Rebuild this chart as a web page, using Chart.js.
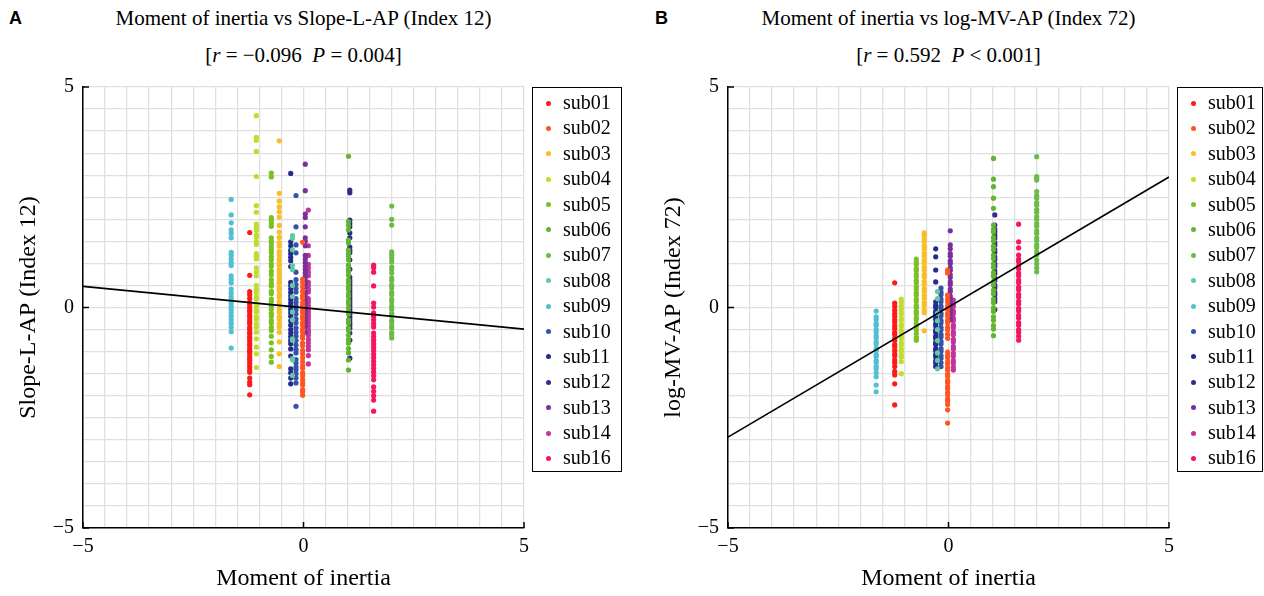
<!DOCTYPE html>
<html>
<head>
<meta charset="utf-8">
<script src="https://cdn.jsdelivr.net/npm/chart.js@4"></script>
<style>
  body { margin: 0; width: 1264px; height: 596px; overflow: hidden; background: #fff; font-family: "Liberation Serif", serif; }
  canvas { position: absolute; top: 0; }
  .title { position: absolute; width: 607px; text-align: center; font-size: 21px; line-height: 24px; color: #000; }
  .tag { position: absolute; top: 8px; font: bold 18px "Liberation Sans", Arial, sans-serif; }
  .legend { position: absolute; top: 87px; height: 381px; padding-top: 2px; border: 1.5px solid #000; box-sizing: content-box; }
  .legend div { height: 25.4px; line-height: 25.4px; font-size: 20px; position: relative; padding-left: 30px; }
  .legend span { position: absolute; left: 13px; top: 10.5px; width: 5px; height: 5px; border-radius: 50%; }
</style>
</head>
<body>
<div class="tag" style="left:9px">A</div>
<div class="title" style="left:0; top:6px">Moment of inertia vs Slope-L-AP (Index 12)</div>
<div class="title" style="left:0; top:43px">[<i>r</i> = −0.096&nbsp;&nbsp;<i>P</i> = 0.004]</div>
<div class="tag" style="left:655px">B</div>
<div class="title" style="left:645px; top:6px">Moment of inertia vs log-MV-AP (Index 72)</div>
<div class="title" style="left:645px; top:43px">[<i>r</i> = 0.592&nbsp;&nbsp;<i>P</i> &lt; 0.001]</div>

<canvas id="chartA" width="640" height="596" style="left:0"></canvas>
<canvas id="chartB" width="619" height="596" style="left:645px"></canvas>
<div class="legend" id="legendA" style="left:532px; width:88px"></div>
<div class="legend" id="legendB" style="left:1177px; width:84px"></div>

<script>
const subjects = ['sub01','sub02','sub03','sub04','sub05','sub06','sub07','sub08','sub09','sub10','sub11','sub12','sub13','sub14','sub16'];
const colors = ['#ff1a1a','#ff5522','#fbbd25','#bfdd2c','#7cc024','#62b52e','#6abb48','#62c9a2','#52bfd2','#3452a8','#222b8e','#35298c','#7a2f9c','#c2339c','#f5165e'];
// moment of inertia of each subject (x position of its column)
const inertia = [-1.22, -0.02, -0.55, -1.07, -0.73, 1.02, 2.0, -0.25, -1.64, -0.17, -0.29, 1.05, 0.04, 0.11, 1.59];

// Slope-L-AP (Index 12), one list per subject
const slopeLAP = [
  [1.7, 0.73, 0.36, 0.29, 0.21, 0.12, 0.07, 0.0, -0.06, -0.1, -0.17, -0.21, -0.28, -0.33, -0.37, -0.45, -0.49, -0.56, -0.6, -0.67, -0.71, -0.76, -0.83, -0.87, -0.94, -0.99, -1.03, -1.1, -1.16, -1.2, -1.27, -1.34, -1.41, -1.47, -1.6, -1.69, -1.75, -1.98],
  [1.48, 0.64, 0.56, 0.47, 0.37, 0.27, 0.21, 0.11, 0.05, -0.04, -0.1, -0.19, -0.25, -0.34, -0.4, -0.49, -0.55, -0.64, -0.7, -0.81, -0.87, -0.97, -1.05, -1.14, -1.23, -1.32, -1.38, -1.48, -1.54, -1.63, -1.71, -1.76, -1.86, -1.91, -1.99],
  [3.78, 2.59, 2.41, 2.28, 2.17, 2.05, 1.86, 1.71, 1.59, 1.47, 1.39, 1.27, 1.19, 1.1, 1.01, 0.95, 0.85, 0.79, 0.7, 0.61, 0.55, 0.45, 0.39, 0.29, 0.23, 0.13, 0.06, -0.05, -0.11, -0.21, -0.27, -0.37, -0.44, -0.56, -0.78, -1.05, -1.34],
  [4.35, 3.86, 3.79, 3.54, 2.97, 2.31, 2.16, 1.89, 1.81, 1.75, 1.65, 1.59, 1.49, 1.43, 1.22, 1.16, 1.1, 0.9, 0.81, 0.72, 0.5, 0.41, 0.34, 0.24, 0.19, 0.09, 0.04, -0.06, -0.11, -0.21, -0.27, -0.37, -0.44, -0.56, -0.71, -0.9, -1.05, -1.36],
  [3.05, 2.96, 2.04, 1.98, 1.9, 1.84, 1.58, 1.51, 1.46, 1.38, 1.31, 1.24, 1.15, 1.08, 0.99, 0.93, 0.82, 0.74, 0.63, 0.55, 0.49, 0.37, 0.31, 0.19, 0.13, 0.03, -0.04, -0.13, -0.19, -0.29, -0.35, -0.45, -0.52, -0.65, -0.8, -0.96, -1.11, -1.24],
  [3.43, 1.95, 1.86, 1.76, 1.53, 1.46, 1.3, 1.23, 1.16, 1.08, 0.96, 0.87, 0.81, 0.73, 0.62, 0.55, 0.46, 0.41, 0.31, 0.25, 0.15, 0.09, 0.0, -0.09, -0.15, -0.28, -0.35, -0.46, -0.52, -0.63, -0.73, -0.81, -0.93, -1.03, -1.19, -1.42],
  [2.3, 2.0, 1.87, 1.26, 1.19, 1.12, 1.04, 0.92, 0.86, 0.78, 0.67, 0.61, 0.51, 0.45, 0.35, 0.29, 0.19, 0.13, 0.03, -0.04, -0.13, -0.19, -0.29, -0.33, -0.41, -0.47, -0.57, -0.62, -0.69],
  [1.63, 1.57, 1.31, 0.95, 0.86, 0.5, 0.25, -0.1, -0.28, -0.71, -0.74, -1.16, -1.19, -1.54],
  [2.45, 2.1, 1.92, 1.76, 1.68, 1.58, 1.25, 1.18, 1.1, 1.02, 0.95, 0.72, 0.64, 0.56, 0.42, 0.33, 0.24, 0.18, 0.1, 0.03, -0.05, -0.12, -0.2, -0.28, -0.36, -0.45, -0.55, -0.92],
  [2.54, 1.83, 1.42, 1.24, 0.8, 0.63, 0.52, 0.43, 0.35, 0.2, 0.12, 0.04, -0.05, -0.15, -0.26, -0.35, -0.46, -0.56, -0.65, -0.75, -0.85, -0.95, -1.03, -1.18, -1.26, -1.35, -1.41, -1.5, -1.6, -1.71, -2.24],
  [3.04, 1.49, 1.4, 1.3, 1.22, 1.14, 1.06, 0.93, 0.57, 0.5, 0.42, 0.34, 0.26, 0.18, 0.1, 0.03, -0.05, -0.12, -0.2, -0.3, -0.4, -0.5, -0.58, -0.66, -0.74, -0.82, -0.94, -1.1, -1.39, -1.48, -1.6, -1.73],
  [2.66, 2.6, 1.98, 1.9, 1.83, 1.69, 1.58, 1.37, 1.3, 1.24, 1.08, 0.87, 0.69, 0.62, 0.56, 0.5, 0.44, 0.38, 0.32, 0.26, 0.2, 0.14, 0.08, 0.02, -0.04, -0.1, -0.16, -0.22, -0.28, -0.34, -0.4, -0.47, -0.58, -0.74, -1.15],
  [3.25, 2.65, 2.12, 2.04, 1.83, 1.58, 1.5, 1.4, 1.18, 1.1, 1.02, 0.94, 0.86, 0.78, 0.7, 0.62, 0.55, 0.47, 0.35, 0.27, 0.19, 0.12, 0.04, -0.04, -0.1, -0.18, -0.26, -0.34, -0.43, -0.56],
  [2.21, 1.4, 1.18, 0.98, 0.9, 0.8, 0.72, 0.57, 0.5, 0.42, 0.35, 0.2, 0.12, 0.04, -0.04, -0.1, -0.18, -0.26, -0.34, -0.42, -0.5, -0.56, -0.63, -0.72, -0.8, -0.88, -0.96, -1.09, -1.28],
  [0.96, 0.9, 0.8, 0.49, 0.1, 0.01, -0.12, -0.2, -0.28, -0.36, -0.44, -0.58, -0.66, -0.74, -0.82, -0.9, -0.98, -1.06, -1.14, -1.22, -1.3, -1.38, -1.46, -1.55, -1.64, -1.8, -1.9, -2.0, -2.1, -2.35]
];

// log-MV-AP (Index 72), one list per subject
const logMVAP = [
  [0.56, 0.1, 0.03, -0.06, -0.14, -0.2, -0.28, -0.33, -0.41, -0.47, -0.56, -0.61, -0.7, -0.75, -0.84, -0.89, -0.97, -1.05, -1.1, -1.19, -1.25, -1.34, -1.45, -1.53, -1.73, -2.21],
  [0.85, 0.78, 0.28, 0.19, 0.13, 0.03, -0.04, -0.13, -0.19, -0.29, -0.35, -0.45, -0.51, -0.61, -0.7, -1.01, -1.09, -1.14, -1.23, -1.28, -1.37, -1.42, -1.51, -1.56, -1.65, -1.7, -1.79, -1.84, -1.93, -1.98, -2.07, -2.12, -2.2, -2.32, -2.62],
  [1.69, 1.64, 1.55, 1.49, 1.39, 1.33, 1.23, 1.17, 1.07, 1.01, 0.91, 0.85, 0.75, 0.69, 0.59, 0.53, 0.43, 0.37, 0.27, 0.21, 0.11, 0.05, -0.06, -0.12, -0.53],
  [0.19, 0.12, 0.04, -0.02, -0.1, -0.15, -0.24, -0.29, -0.38, -0.43, -0.52, -0.57, -0.66, -0.71, -0.8, -0.85, -0.94, -0.99, -1.08, -1.13, -1.23, -1.5],
  [1.1, 1.03, 0.98, 0.89, 0.84, 0.75, 0.7, 0.61, 0.56, 0.47, 0.42, 0.33, 0.28, 0.19, 0.14, 0.05, 0.0, -0.09, -0.14, -0.23, -0.28, -0.37, -0.42, -0.51, -0.59, -0.68, -0.74],
  [3.38, 2.91, 2.74, 2.48, 2.25, 1.87, 1.77, 1.71, 1.59, 1.51, 1.39, 1.31, 1.19, 1.11, 0.99, 0.91, 0.79, 0.71, 0.59, 0.51, 0.39, 0.31, 0.19, 0.11, -0.01, -0.09, -0.21, -0.29, -0.41, -0.49, -0.64],
  [3.42, 2.97, 2.93, 2.89, 2.63, 2.54, 2.48, 2.38, 2.32, 2.22, 2.16, 2.06, 2.0, 1.9, 1.84, 1.74, 1.68, 1.58, 1.52, 1.42, 1.36, 1.26, 1.19, 1.08, 0.99, 0.9, 0.81],
  [0.36, 0.2, -0.13, -0.3, -0.5, -0.75, -1.03, -1.2, -1.39],
  [-0.08, -0.21, -0.27, -0.36, -0.41, -0.5, -0.55, -0.64, -0.69, -0.78, -0.83, -0.92, -0.97, -1.06, -1.11, -1.2, -1.25, -1.34, -1.39, -1.48, -1.57, -1.76, -1.91],
  [0.44, 0.35, 0.29, 0.19, 0.13, 0.03, -0.03, -0.13, -0.19, -0.29, -0.35, -0.45, -0.51, -0.61, -0.67, -0.77, -0.83, -0.93, -0.99, -1.09, -1.15, -1.25, -1.34],
  [1.33, 1.15, 0.85, 0.58, 0.13, 0.05, 0.0, -0.09, -0.14, -0.23, -0.28, -0.37, -0.42, -0.51, -0.56, -0.65, -0.7, -0.79, -0.84, -0.93, -0.98, -1.07, -1.12, -1.21, -1.26, -1.34],
  [2.1, 1.87, 1.77, 1.71, 1.63, 1.57, 1.47, 1.41, 1.31, 1.25, 1.15, 1.09, 0.99, 0.93, 0.83, 0.77, 0.67, 0.61, 0.51, 0.45, 0.35, 0.29, 0.2, 0.13, -0.05],
  [1.74, 1.42, 1.33, 1.22, 1.16, 1.06, 1.0, 0.9, 0.84, 0.74, 0.68, 0.58, 0.52, 0.42, 0.36, 0.26, 0.2, 0.1, 0.04, -0.06, -0.12, -0.2, -0.28],
  [0.17, 0.08, 0.02, -0.08, -0.14, -0.24, -0.3, -0.4, -0.46, -0.56, -0.62, -0.72, -0.78, -0.88, -0.94, -1.04, -1.1, -1.2, -1.26, -1.35, -1.42],
  [1.89, 1.49, 1.35, 1.19, 1.1, 1.04, 0.94, 0.88, 0.78, 0.72, 0.62, 0.56, 0.46, 0.4, 0.3, 0.24, 0.14, 0.08, -0.02, -0.08, -0.18, -0.24, -0.34, -0.4, -0.5, -0.56, -0.65, -0.74]
];

// regression lines, ends at x = -5 and x = 5
const fitX = [-5, 5];
const fitA = [0.48, -0.49];
const fitB = [-2.94, 2.96];

const axisMin = -5, axisMax = 5, gridStep = 0.5;
const labeledTicks = [-5, 0, 5];

const serif = 'Liberation Serif';

function fmt(v) {
  return v < 0 ? '\u2212' + Math.abs(v) : String(v);
}

// small inward tick marks at -5, 0, 5 like the original figure
const innerTicks = {
  id: 'innerTicks',
  afterDraw(chart) {
    const ctx = chart.ctx;
    const xs = chart.scales.x, ys = chart.scales.y;
    const area = chart.chartArea;
    ctx.save();
    ctx.strokeStyle = '#000';
    ctx.lineWidth = 1.5;
    labeledTicks.forEach(v => {
      const px = xs.getPixelForValue(v);
      ctx.beginPath();
      ctx.moveTo(px, area.bottom);
      ctx.lineTo(px, area.bottom - 6);
      ctx.stroke();
      const py = ys.getPixelForValue(v);
      ctx.beginPath();
      ctx.moveTo(area.left, py);
      ctx.lineTo(area.left + 6, py);
      ctx.stroke();
    });
    ctx.restore();
  }
};

function makeChart(id, values, fitY, yTitle, padRight) {
  const datasets = subjects.map((s, i) => ({
    label: s,
    data: values[i].map(y => ({ x: inertia[i], y: y })),
    backgroundColor: colors[i],
    borderColor: colors[i],
    borderWidth: 0,
    pointRadius: 2.6,
    pointHoverRadius: 2.6
  }));
  datasets.push({
    type: 'line',
    label: 'fit',
    data: fitX.map((x, i) => ({ x: x, y: fitY[i] })),
    borderColor: '#000',
    borderWidth: 1.6,
    pointRadius: 0,
    fill: false,
    order: -1
  });

  const axis = (title, isY) => ({
    type: 'linear',
    min: axisMin,
    max: axisMax,
    border: { display: true, color: '#000', width: 1.5 },
    grid: { color: '#e0e0e0', lineWidth: 1.3, drawTicks: false },
    ticks: {
      stepSize: gridStep,
      autoSkip: false,
      maxRotation: 0,
      padding: isY ? 9 : 7,
      color: '#000',
      font: { family: serif, size: 20 },
      callback: v => (Math.abs(v % 5) < 1e-9 ? fmt(v) : '')
    },
    title: {
      display: true,
      text: title,
      color: '#000',
      font: { family: serif, size: 24 },
      padding: isY ? { top: 14, bottom: 0 } : { top: 0, bottom: 3 }
    },
    afterFit: s => { if (isY) s.width = 83; else s.height = 68; }
  });

  return new Chart(document.getElementById(id), {
    type: 'scatter',
    data: { datasets: datasets },
    options: {
      responsive: false,
      animation: false,
      devicePixelRatio: 1,
      layout: { autoPadding: false, padding: { top: 87, right: padRight, left: 0, bottom: 0 } },
      plugins: { legend: { display: false }, tooltip: { enabled: false } },
      scales: {
        x: axis('Moment of inertia', false),
        y: axis(yTitle, true)
      }
    },
    plugins: [innerTicks]
  });
}

function makeLegend(id) {
  const box = document.getElementById(id);
  subjects.forEach((s, i) => {
    const row = document.createElement('div');
    row.innerHTML = '<span style="background:' + colors[i] + '"></span>' + s;
    box.appendChild(row);
  });
}

makeChart('chartA', slopeLAP, fitA, 'Slope-L-AP (Index 12)', 116);
makeChart('chartB', logMVAP, fitB, 'log-MV-AP (Index 72)', 95);
makeLegend('legendA');
makeLegend('legendB');
</script>
</body>
</html>
